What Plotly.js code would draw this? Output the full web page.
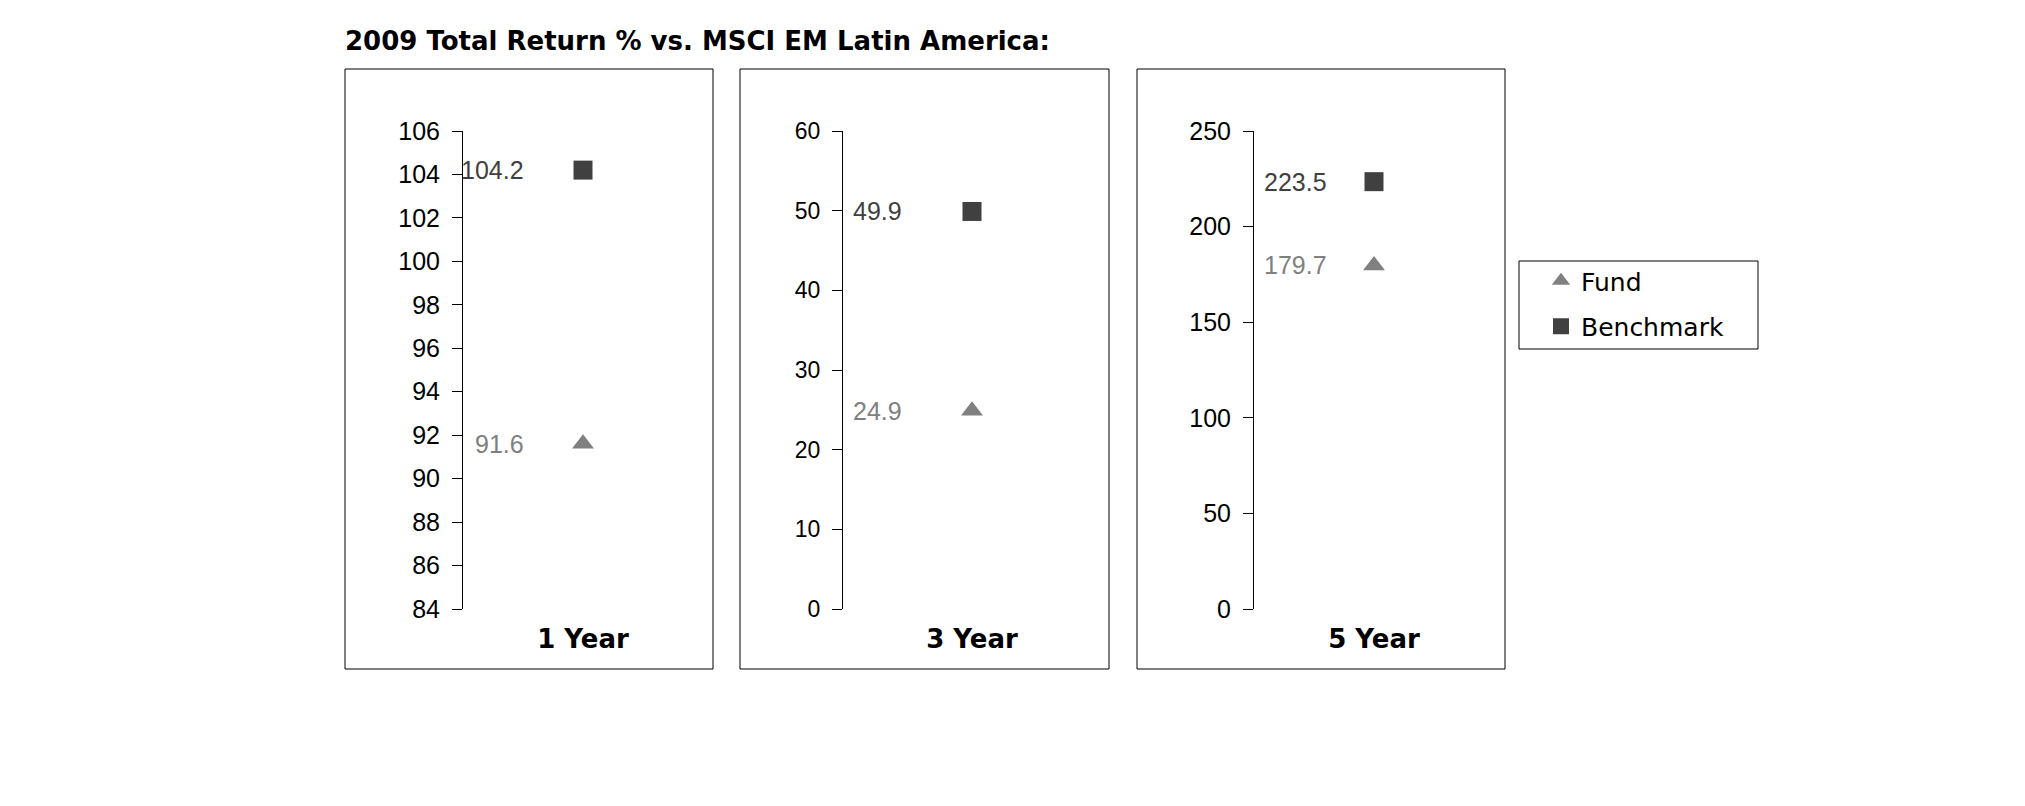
<!DOCTYPE html>
<html>
<head>
<meta charset="utf-8">
<script src="https://cdn.plot.ly/plotly-3.0.1.min.js"></script>
<style>
  body { margin: 0; background: white; }
  #chart { width: 2025px; height: 806px; }
</style>
</head>
<body>
<div id="chart"></div>
<script>
// values
var periods = ['1 Year', '3 Year', '5 Year'];
var fund = [91.6, 24.9, 179.7];
var benchmark = [104.2, 49.9, 223.5];

var W = 2025, H = 806;
function px(x) { return x / W; }
function py(y) { return 1 - y / H; }

// one panel per period: axis range, x domain, panel box and label offset
var panels = [
  { range: [84, 106], dtick: 2, tickSize: 25, dom: [463, 703], box: [345, 713], shift: -57 },
  { range: [0, 60], dtick: 10, tickSize: 23, dom: [843, 1101], box: [740, 1109], shift: -68 },
  { range: [0, 250], dtick: 50, tickSize: 25, dom: [1254, 1494], box: [1137, 1505], shift: -45 }
];

var fundColor = '#808080';
var benchColor = '#404040';

var data = [];
var layout = {
  width: W,
  height: H,
  margin: { l: 0, r: 0, t: 0, b: 0 },
  paper_bgcolor: 'white',
  plot_bgcolor: 'rgba(0,0,0,0)',
  showlegend: true,
  legend: {
    x: px(1541), y: py(258), xanchor: 'left', yanchor: 'top',
    bgcolor: 'rgba(0,0,0,0)',
    borderwidth: 0,
    font: { family: 'DejaVu Sans', size: 25, color: 'black' },
    traceorder: 'grouped',
    tracegroupgap: 10
  },
  shapes: [],
  annotations: [
    {
      text: '2009 Total Return % vs. MSCI EM Latin America:',
      xref: 'paper', yref: 'paper', x: px(343), y: py(41),
      xanchor: 'left', yanchor: 'middle', showarrow: false,
      font: { family: 'DejaVu Sans', weight: 'bold', size: 26, color: 'black' }
    }
  ]
};

// legend box
layout.shapes.push({
  type: 'rect', xref: 'paper', yref: 'paper',
  x0: px(1519), x1: px(1758), y0: py(261), y1: py(349),
  line: { color: 'black', width: 1 }
});

panels.forEach(function (p, i) {
  var n = i === 0 ? '' : String(i + 1);
  var xa = 'x' + n, ya = 'y' + n;

  data.push({
    x: [periods[i]], y: [fund[i]], xaxis: xa, yaxis: ya,
    type: 'scatter', mode: 'markers', name: 'Fund',
    legendgroup: 'fund', showlegend: i === 0,
    marker: { symbol: 'triangle-up', size: 19, color: fundColor },
    hoverinfo: 'y'
  });
  data.push({
    x: [periods[i]], y: [benchmark[i]], xaxis: xa, yaxis: ya,
    type: 'scatter', mode: 'markers', name: 'Benchmark',
    legendgroup: 'bench', showlegend: i === 0,
    marker: { symbol: 'square', size: 19, color: benchColor },
    hoverinfo: 'y'
  });

  layout['xaxis' + n] = {
    domain: [px(p.dom[0]), px(p.dom[1])],
    anchor: ya,
    type: 'category',
    range: [-0.5, 0.5],
    showgrid: false, zeroline: false, showline: false, ticks: '',
    ticklabelstandoff: 12,
    tickfont: { family: 'DejaVu Sans', weight: 'bold', size: 26, color: 'black' },
    fixedrange: true
  };
  layout['yaxis' + n] = {
    domain: [py(609), py(131)],
    anchor: xa,
    range: p.range,
    dtick: p.dtick,
    showgrid: false, zeroline: false,
    showline: true, linecolor: 'black', linewidth: 1,
    ticks: 'outside', ticklen: 10, tickcolor: 'black', tickwidth: 1,
    ticklabelstandoff: 7,
    tickfont: { family: 'Liberation Sans', size: p.tickSize, color: 'black' },
    fixedrange: true
  };

  // panel frame
  layout.shapes.push({
    type: 'rect', xref: 'paper', yref: 'paper',
    x0: px(p.box[0]), x1: px(p.box[1]), y0: py(69), y1: py(669),
    line: { color: 'black', width: 1 }
  });

  // data labels to the left of the markers
  [[fund[i], fundColor], [benchmark[i], benchColor]].forEach(function (v) {
    layout.annotations.push({
      text: v[0].toFixed(1),
      xref: xa, yref: ya, x: periods[i], y: v[0],
      xanchor: 'right', yanchor: 'middle', xshift: p.shift,
      showarrow: false,
      font: { family: 'Liberation Sans', size: 25, color: v[1] }
    });
  });
});

Plotly.newPlot('chart', data, layout, { displayModeBar: false, staticPlot: true });
</script>
</body>
</html>
